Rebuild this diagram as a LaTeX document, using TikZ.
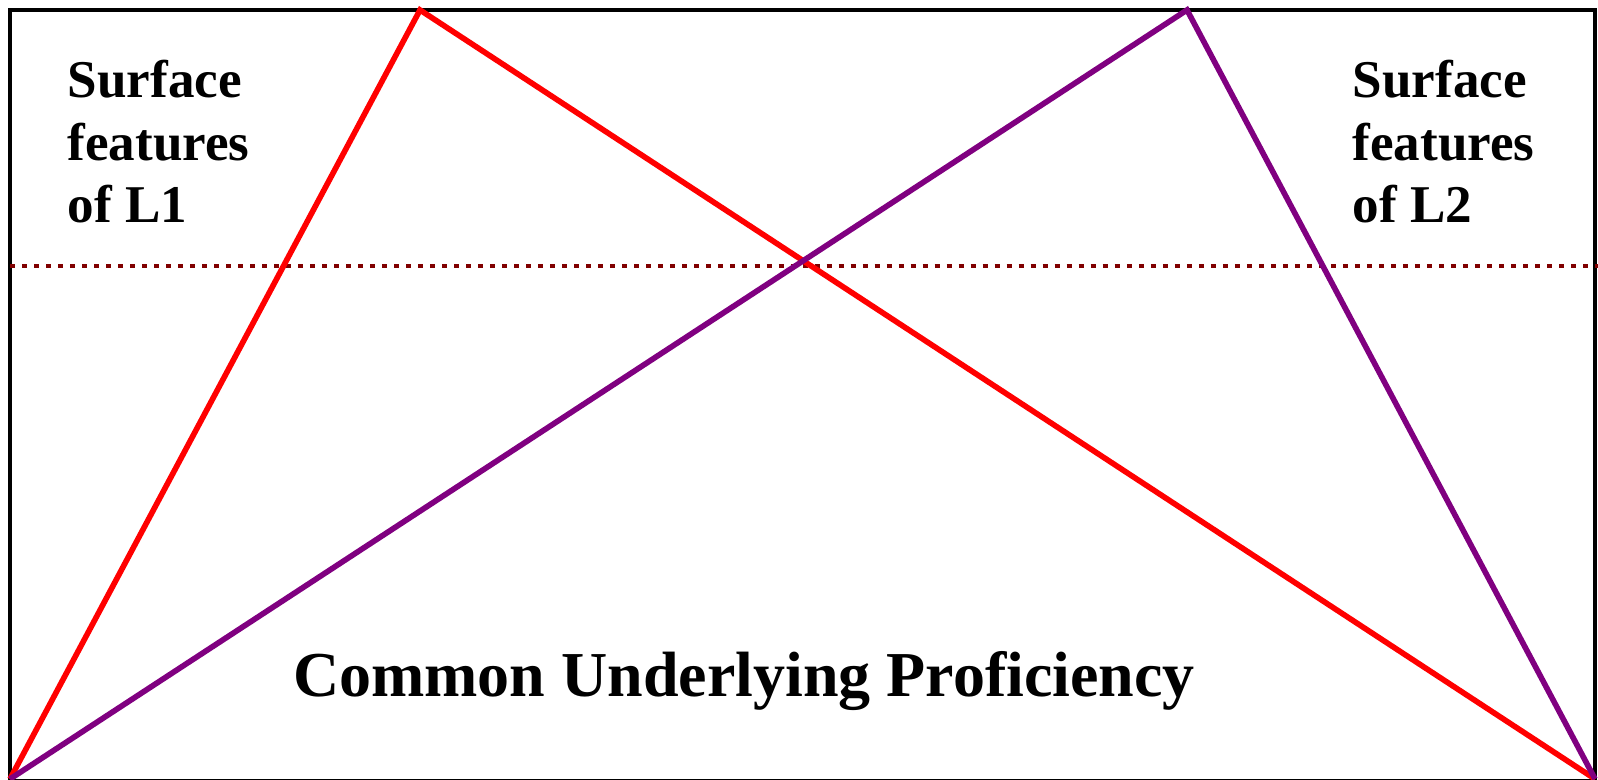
\documentclass[tikz,border=0pt]{standalone}
\usepackage{fontspec}
\setmainfont{Liberation Serif}
\definecolor{cupred}{RGB}{255,0,0}
\definecolor{cuppurple}{RGB}{128,0,128}
\definecolor{cupmaroon}{RGB}{128,0,0}
\tikzset{
  sideLabel/.style={align=left,inner sep=0pt,anchor=base west,
    font=\fontsize{15.1pt}{17.9pt}\selectfont\bfseries},
  mainLabel/.style={inner sep=0pt,anchor=base,
    font=\fontsize{18.2pt}{21pt}\selectfont\bfseries}
}
\begin{document}
\begin{tikzpicture}[x=0.01cm,y=-0.01cm,line join=miter]
  \useasboundingbox (0,0) rectangle (1598,780);
  \draw[line width=1pt] (10,10) rectangle (1595,781);
  \coordinate (bl) at (10,779);
  \coordinate (br) at (1595,779);
  \coordinate (redtop) at (420,10);
  \coordinate (purpletop) at (1187,10);
  \coordinate (dotleft) at (10,266);
  \coordinate (dotright) at (1598,266);
  \draw[cupmaroon,line width=1.4pt,dash pattern=on 0.05cm off 0.07cm] (dotleft) -- (dotright);
  \draw[cupred,line width=1.6pt] (bl) -- (redtop) -- (br);
  \draw[cuppurple,line width=1.6pt] (bl) -- (purpletop) -- (br);
  % base anchor of a multi-line node sits on its last line
  \node[sideLabel] (lone) at (67,223) {Surface\\features\\of L1};
  \node[sideLabel] (ltwo) at (1352,223) {Surface\\features\\of L2};
  \node[mainLabel] (cup) at (744,696) {Common Underlying Proficiency};
\end{tikzpicture}
\end{document}
